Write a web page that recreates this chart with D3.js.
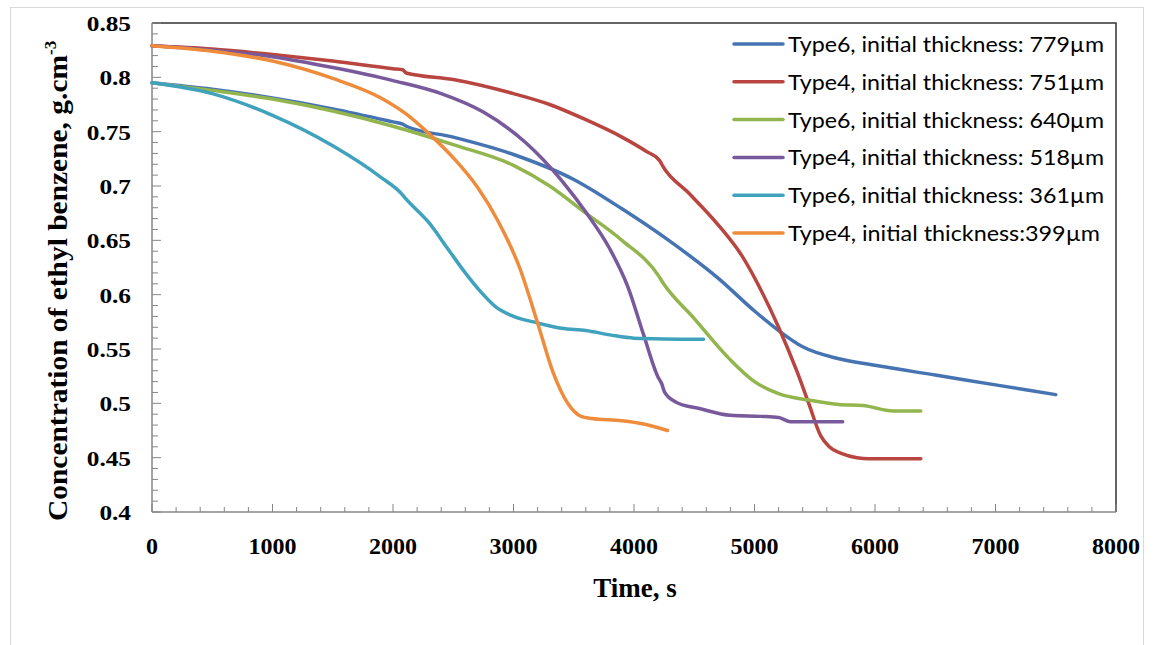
<!DOCTYPE html>
<html>
<head>
<meta charset="utf-8">
<script src="https://cdn.jsdelivr.net/npm/d3@7"></script>
<style>
  html, body { margin: 0; padding: 0; background: #fff; }
  svg { display: block; }
</style>
</head>
<body>
<svg id="chart" width="1154" height="645"></svg>
<script>
// ---------------- DATA ----------------
const xTicks = [0, 1000, 2000, 3000, 4000, 5000, 6000, 7000, 8000];
const yTicks = [0.4, 0.45, 0.5, 0.55, 0.6, 0.65, 0.7, 0.75, 0.8, 0.85];

const seriesNames = [
  "Type6, initial thickness: 779µm",
  "Type4, initial thickness: 751µm",
  "Type6, initial thickness: 640µm",
  "Type4, initial thickness: 518µm",
  "Type6, initial thickness: 361µm",
  "Type4, initial thickness:399µm"
];
const seriesColors = ["#4674B3", "#B8453F", "#93B54E", "#785A9C", "#40A2BD", "#EE8C3C"];

// Type6, 779 µm
const t779 = [0, 500, 1000, 1500, 2000, 2080, 2110, 2500, 3000, 3500, 3900, 4300, 4700, 5000, 5200, 5400, 5700, 6000, 6500, 7000, 7500];
const c779 = [0.795, 0.789, 0.781, 0.771, 0.759, 0.757, 0.755, 0.745, 0.729, 0.706, 0.679, 0.649, 0.615, 0.585, 0.567, 0.552, 0.541, 0.535, 0.526, 0.517, 0.508];

// Type4, 751 µm
const t751 = [0, 500, 1000, 1500, 2000, 2080, 2110, 2500, 3000, 3300, 3600, 3900, 4100, 4215, 4240, 4450, 4700, 4900, 5050, 5200, 5350, 5450, 5550, 5620, 5720, 5850, 5950, 6380];
const c751 = [0.829, 0.826, 0.821, 0.815, 0.808, 0.807, 0.804, 0.798, 0.785, 0.775, 0.761, 0.745, 0.732, 0.723, 0.718, 0.694, 0.664, 0.635, 0.605, 0.570, 0.530, 0.500, 0.470, 0.460, 0.454, 0.450, 0.449, 0.449];

// Type6, 640 µm
const t640 = [0, 500, 1000, 1500, 2000, 2500, 3000, 3300, 3600, 3900, 4200, 4240, 4500, 4800, 5000, 5200, 5450, 5700, 5900, 6150, 6380];
const c640 = [0.795, 0.788, 0.780, 0.769, 0.755, 0.738, 0.719, 0.700, 0.675, 0.650, 0.618, 0.611, 0.578, 0.540, 0.520, 0.509, 0.503, 0.499, 0.498, 0.493, 0.493];

// Type4, 518 µm
const t518 = [0, 500, 1000, 1500, 2000, 2400, 2750, 3100, 3400, 3600, 3800, 3950, 4080, 4200, 4230, 4255, 4350, 4550, 4800, 5050, 5200, 5300, 5732];
const c518 = [0.829, 0.825, 0.819, 0.809, 0.797, 0.785, 0.768, 0.740, 0.705, 0.676, 0.642, 0.607, 0.563, 0.524, 0.518, 0.510, 0.501, 0.495, 0.489, 0.488, 0.487, 0.483, 0.483];

// Type6, 361 µm
const t361 = [0, 500, 1000, 1500, 1900, 2070, 2100, 2300, 2450, 2600, 2725, 2850, 3000, 3200, 3400, 3600, 3800, 4000, 4577];
const c361 = [0.795, 0.785, 0.765, 0.737, 0.708, 0.693, 0.689, 0.666, 0.643, 0.620, 0.603, 0.589, 0.580, 0.574, 0.569, 0.567, 0.563, 0.560, 0.559];

// Type4, 399 µm
const t399 = [0, 500, 1000, 1500, 1900, 2100, 2300, 2500, 2700, 2870, 3050, 3200, 3330, 3450, 3560, 3650, 3900, 4080, 4278];
const c399 = [0.829, 0.824, 0.815, 0.799, 0.781, 0.767, 0.748, 0.726, 0.699, 0.668, 0.625, 0.574, 0.528, 0.500, 0.488, 0.486, 0.484, 0.481, 0.475];

const seriesT = [t779, t751, t640, t518, t361, t399];
const seriesC = [c779, c751, c640, c518, c361, c399];

// ---------------- LAYOUT ----------------
const svg = d3.select("#chart");
const L = 152, R = 1116, T = 23, B = 512;

const x = d3.scaleLinear().domain([0, 8000]).range([L, R]);
const y = d3.scaleLinear().domain([0.4, 0.85]).range([B, T]);

// outer chart border
svg.append("rect").attr("x", 10.5).attr("y", 7.5).attr("width", 1133).attr("height", 645)
  .attr("fill", "none").attr("stroke", "#d9d9d9").attr("stroke-width", 1);

// plot area border (top + right)
svg.append("path")
  .attr("d", `M${L},${T}H${R}V${B}`)
  .attr("fill", "none").attr("stroke", "#333").attr("stroke-width", 1.5);

const axisColor = "#868686";
const serif = "'Liberation Serif', 'Times New Roman', serif";

// X axis (ticks pointing up)
const xMinor = d3.range(0, 8001, 200);
const gx = svg.append("g").attr("transform", `translate(0,${B})`);
gx.selectAll("line.minor").data(xMinor).join("line")
  .attr("x1", d => x(d)).attr("x2", d => x(d))
  .attr("y1", 0).attr("y2", d => (d % 1000 === 0 ? -8 : -5))
  .attr("stroke", axisColor).attr("stroke-width", 1);
gx.append("line").attr("x1", L).attr("x2", R).attr("y1", 0).attr("y2", 0)
  .attr("stroke", axisColor).attr("stroke-width", 1.5);
gx.selectAll("text").data(xTicks).join("text")
  .attr("x", d => x(d)).attr("y", 42)
  .attr("text-anchor", "middle")
  .attr("font-family", serif).attr("font-weight", "bold").attr("font-size", 24)
  .text(d => d);

// Y axis (ticks pointing right)
const yMinor = d3.range(40, 86, 1).map(v => v / 100);
const gy = svg.append("g").attr("transform", `translate(${L},0)`);
gy.selectAll("line.minor").data(yMinor).join("line")
  .attr("x1", 0).attr("x2", (d, i) => (i % 5 === 0 ? 9 : 6))
  .attr("y1", d => y(d)).attr("y2", d => y(d))
  .attr("stroke", axisColor).attr("stroke-width", 1);
gy.append("line").attr("x1", 0).attr("x2", 0).attr("y1", T).attr("y2", B)
  .attr("stroke", axisColor).attr("stroke-width", 1.5);
gy.selectAll("text").data(yTicks).join("text")
  .attr("x", -21).attr("y", d => y(d) + 8)
  .attr("text-anchor", "end")
  .attr("font-family", serif).attr("font-weight", "bold").attr("font-size", 22)
  .text(d => d)
  .each(function() {
    const w = this.getComputedTextLength();
    d3.select(this).attr("textLength", w * 1.15).attr("lengthAdjust", "spacingAndGlyphs");
  });

// Axis titles
svg.append("text")
  .attr("x", 635).attr("y", 597)
  .attr("text-anchor", "middle")
  .attr("font-family", serif).attr("font-weight", "bold").attr("font-size", 27)
  .text("Time, s");

const yt = svg.append("text")
  .attr("transform", "translate(67,521) rotate(-90)")
  .attr("text-anchor", "start")
  .attr("font-family", serif).attr("font-weight", "bold").attr("font-size", 27);
yt.append("tspan").attr("textLength", 466).attr("lengthAdjust", "spacingAndGlyphs")
  .text("Concentration of ethyl benzene, g.cm");
yt.append("tspan").attr("dy", -11).attr("font-size", 17).text("-3");

// Lines
const line = d3.line()
  .x(d => x(d[0])).y(d => y(d[1]))
  .curve(d3.curveMonotoneX);

seriesT.forEach((ts, i) => {
  const pts = ts.map((t, j) => [t, seriesC[i][j]]);
  svg.append("path")
    .datum(pts)
    .attr("d", line)
    .attr("fill", "none")
    .attr("stroke", seriesColors[i])
    .attr("stroke-width", 3.5)
    .attr("stroke-linejoin", "round")
    .attr("stroke-linecap", "round");
});

// Legend
const lg = svg.append("g");
seriesNames.forEach((name, i) => {
  const cy = 44 + i * 37.8;
  lg.append("line")
    .attr("x1", 734).attr("x2", 783).attr("y1", cy).attr("y2", cy)
    .attr("stroke", seriesColors[i]).attr("stroke-width", 3.5).attr("stroke-linecap", "round");
  lg.append("text")
    .attr("x", 788).attr("y", cy + 8)
    .attr("font-family", "Lato, 'Open Sans', sans-serif").attr("font-size", 21)
    .attr("fill", "#000")
    .attr("textLength", i === 5 ? 312 : 316).attr("lengthAdjust", "spacingAndGlyphs")
    .text(name);
});
</script>
</body>
</html>
